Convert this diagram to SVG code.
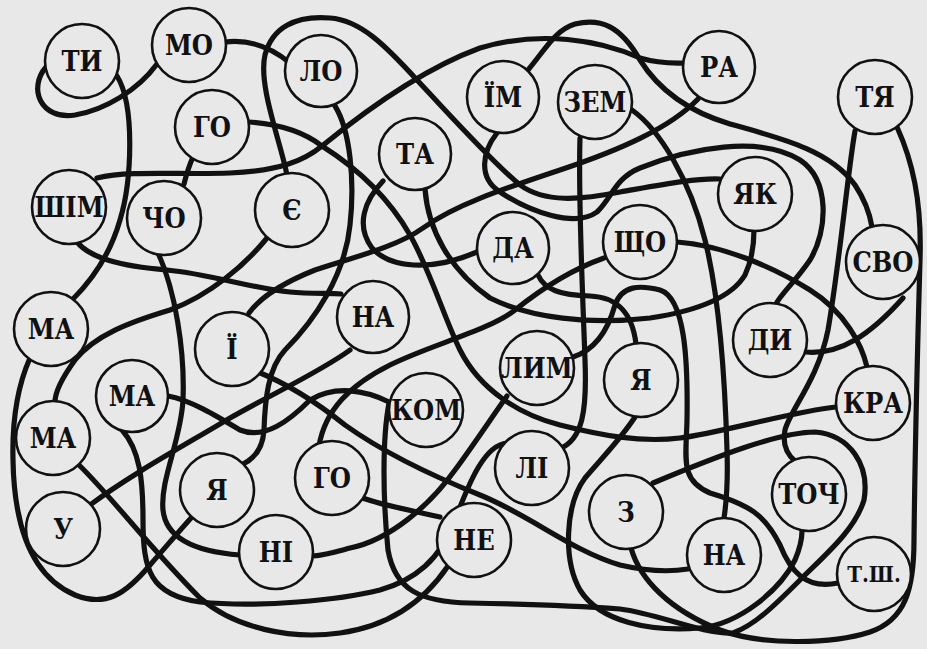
<svg xmlns="http://www.w3.org/2000/svg" width="927" height="649" viewBox="0 0 927 649">
<style>
.ln{fill:none;stroke:#111;stroke-width:5.2;stroke-linecap:round;stroke-linejoin:round}
.nd circle{fill:#e8e8e8;stroke:#111;stroke-width:2.6}
.nd text{font-family:"DejaVu Serif Condensed","DejaVu Serif","Liberation Serif",serif;font-size:27px;font-weight:bold;fill:#111;text-anchor:middle;dominant-baseline:central}
</style>
<rect width="927" height="649" fill="#e8e8e8"/>
<g id="connectors">
<path class="ln" d="M46,67 C28,88 40,120 75,115 C105,110 138,90 157,64"/>
<path class="ln" d="M117,76 C135,105 132,180 120,220 C110,255 92,280 73,299"/>
<path class="ln" d="M225,42 C250,39 272,48 290,63"/>
<path class="ln" d="M287,175 C280,140 258,85 265,55 C272,28 295,15 330,18 C360,20 385,45 417,80 C450,115 490,160 520,185 C545,203 580,200 620,192 C660,185 695,178 720,179"/>
<path class="ln" d="M497,133 C482,152 478,178 500,192 C530,212 575,228 597,212 C612,198 615,178 640,168 C690,148 760,135 800,160 C830,180 828,230 810,260 C795,282 780,295 776,304"/>
<path class="ln" d="M528,70 C545,50 555,30 575,24 C600,18 620,25 640,60 C660,92 690,112 730,124 C780,138 830,150 855,185 C865,200 870,215 872,227"/>
<path class="ln" d="M97,178 C130,170 180,175 230,173 C280,171 305,160 322,146 C360,115 420,70 480,48 C540,30 600,40 640,58 C660,64 675,63 684,63"/>
<path class="ln" d="M248,122 C280,124 305,133 322,146 C360,170 390,200 410,235 C430,270 445,320 460,350 C480,390 520,415 560,425 C600,435 640,443 680,438 C720,433 790,412 836,407"/>
<path class="ln" d="M193,157 C188,168 186,176 184,184"/>
<path class="ln" d="M158,253 C175,290 185,350 183,400 C181,440 160,480 163,510 C166,540 200,552 240,555"/>
<path class="ln" d="M77,242 C90,258 120,266 167,270 C210,274 250,288 290,292 C310,294 330,293 341,294"/>
<path class="ln" d="M267,238 C245,265 210,295 170,310 C130,322 95,335 75,360 C62,378 55,392 55,402"/>
<path class="ln" d="M698,99 C670,128 620,150 560,170 C500,190 455,205 423,228 C395,248 350,258 315,270 C285,282 262,295 249,313"/>
<path class="ln" d="M335,106 C350,130 355,180 350,225 C345,275 315,320 285,350 C268,368 265,400 264,430 C263,448 255,458 243,464"/>
<path class="ln" d="M383,181 C365,200 355,225 372,248 C390,268 430,272 477,252"/>
<path class="ln" d="M425,189 C428,230 450,270 490,298 C530,318 590,325 650,318 C690,312 730,300 745,275 C752,260 754,245 754,230"/>
<path class="ln" d="M538,275 C545,290 560,295 590,296 C615,297 632,310 636,344"/>
<path class="ln" d="M677,242 C720,245 770,265 810,290 C845,312 862,345 867,367"/>
<path class="ln" d="M806,352 C840,355 870,335 903,298"/>
<path class="ln" d="M604,258 C570,270 540,290 515,310 C490,330 430,345 390,365 C350,385 325,410 319,446"/>
<path class="ln" d="M350,350 C320,372 270,395 230,418 C185,445 130,475 90,505"/>
<path class="ln" d="M580,138 C578,200 583,300 585,360 C587,410 583,440 559,449"/>
<path class="ln" d="M632,110 C660,130 690,180 705,240 C720,300 725,380 727,450 C728,480 726,505 724,518"/>
<path class="ln" d="M573,357 C595,350 608,330 615,305 C622,285 640,285 660,290 C685,298 688,360 687,420 C686,460 680,480 710,493 C750,505 765,515 780,545 C790,570 805,590 838,583"/>
<path class="ln" d="M855,131 C848,170 840,260 828,330 C818,380 790,410 785,430 C782,445 788,455 795,461"/>
<path class="ln" d="M389,403 C382,440 383,500 388,550 C395,590 420,602 470,603 C530,604 580,606 620,609 C660,614 700,634 733,633 C755,625 775,605 800,580 C825,555 855,530 864,500 C870,465 850,435 815,432 C780,432 720,455 653,483"/>
<path class="ln" d="M631,548 C640,580 670,610 720,630 C760,645 830,645 870,632 C905,620 914,590 914,540 C915,450 918,330 920,260 C922,200 912,160 897,127"/>
<path class="ln" d="M635,417 C620,440 600,460 585,478 C565,505 563,560 580,590 C600,622 650,632 700,628 C740,624 780,590 795,560 C800,548 802,540 802,531"/>
<path class="ln" d="M258,372 C290,385 320,405 345,425 C380,450 430,475 480,495 C530,515 570,550 620,565 C650,572 670,572 688,569"/>
<path class="ln" d="M79,465 C110,495 150,548 200,598 C235,628 290,640 340,633 C390,626 425,600 448,566"/>
<path class="ln" d="M122,430 C140,450 143,480 143,520 C143,570 150,595 200,602 C260,608 340,600 380,590 C415,580 440,560 455,520 C470,480 485,445 507,443"/>
<path class="ln" d="M30,358 C18,385 12,420 13,460 C14,520 28,575 75,595 C105,607 125,595 150,565 C165,548 180,530 192,517"/>
<path class="ln" d="M168,396 C190,400 215,415 240,430 C265,440 290,420 310,400 C335,385 365,390 389,402"/>
<path class="ln" d="M507,396 C490,420 470,450 455,470 C430,505 390,540 350,548 C335,552 325,555 313,556"/>
<path class="ln" d="M360,497 C380,505 410,510 440,517"/>
</g>
<g id="n-ti" class="nd"><circle cx="82" cy="61" r="37"/><text x="82" y="61">ТИ</text></g>
<g id="n-mo" class="nd"><circle cx="189" cy="45" r="37"/><text x="189" y="45">МО</text></g>
<g id="n-lo" class="nd"><circle cx="321" cy="71" r="36"/><text x="321" y="71">ЛО</text></g>
<g id="n-go1" class="nd"><circle cx="212" cy="127" r="37"/><text x="212" y="127">ГО</text></g>
<g id="n-shim" class="nd"><circle cx="69" cy="207" r="37"/><text x="69" y="207">ШІМ</text></g>
<g id="n-cho" class="nd"><circle cx="164" cy="218" r="37"/><text x="164" y="218">ЧО</text></g>
<g id="n-ye" class="nd"><circle cx="292" cy="210" r="37"/><text x="292" y="210">Є</text></g>
<g id="n-ta" class="nd"><circle cx="415" cy="154" r="36"/><text x="415" y="154">ТА</text></g>
<g id="n-yim" class="nd"><circle cx="503" cy="97" r="36"/><text x="503" y="97">ЇМ</text></g>
<g id="n-zem" class="nd"><circle cx="595" cy="102" r="37"/><text x="595" y="102">ЗЕМ</text></g>
<g id="n-ra" class="nd"><circle cx="719" cy="67" r="36"/><text x="719" y="67">РА</text></g>
<g id="n-tya" class="nd"><circle cx="875" cy="97" r="37"/><text x="875" y="97">ТЯ</text></g>
<g id="n-yak" class="nd"><circle cx="755" cy="194" r="37"/><text x="755" y="194">ЯК</text></g>
<g id="n-da" class="nd"><circle cx="513" cy="248" r="36"/><text x="513" y="248">ДА</text></g>
<g id="n-shcho" class="nd"><circle cx="640" cy="242" r="37"/><text x="640" y="242">ЩО</text></g>
<g id="n-svo" class="nd"><circle cx="883" cy="262" r="37"/><text x="883" y="262">СВО</text></g>
<g id="n-na1" class="nd"><circle cx="373" cy="317" r="36"/><text x="373" y="317">НА</text></g>
<g id="n-yi" class="nd"><circle cx="232" cy="349" r="37"/><text x="232" y="349">Ї</text></g>
<g id="n-ma1" class="nd"><circle cx="51" cy="329" r="37"/><text x="51" y="329">МА</text></g>
<g id="n-ma2" class="nd"><circle cx="132" cy="396" r="36"/><text x="132" y="396">МА</text></g>
<g id="n-ma3" class="nd"><circle cx="53" cy="438" r="37"/><text x="53" y="438">МА</text></g>
<g id="n-u" class="nd"><circle cx="63" cy="529" r="37"/><text x="63" y="529">У</text></g>
<g id="n-ya1" class="nd"><circle cx="217" cy="490" r="37"/><text x="217" y="490">Я</text></g>
<g id="n-ni" class="nd"><circle cx="276" cy="552" r="37"/><text x="276" y="552">НІ</text></g>
<g id="n-go2" class="nd"><circle cx="332" cy="478" r="37"/><text x="332" y="478">ГО</text></g>
<g id="n-kom" class="nd"><circle cx="426" cy="410" r="37"/><text x="426" y="410">КОМ</text></g>
<g id="n-lym" class="nd"><circle cx="537" cy="368" r="37"/><text x="537" y="368">ЛИМ</text></g>
<g id="n-ya2" class="nd"><circle cx="641" cy="380" r="37"/><text x="641" y="380">Я</text></g>
<g id="n-dy" class="nd"><circle cx="770" cy="340" r="37"/><text x="770" y="340">ДИ</text></g>
<g id="n-kra" class="nd"><circle cx="873" cy="403" r="37"/><text x="873" y="403">КРА</text></g>
<g id="n-li" class="nd"><circle cx="532" cy="468" r="37"/><text x="532" y="468">ЛІ</text></g>
<g id="n-ne" class="nd"><circle cx="474" cy="540" r="37"/><text x="474" y="540">НЕ</text></g>
<g id="n-z" class="nd"><circle cx="626" cy="512" r="37"/><text x="626" y="512">З</text></g>
<g id="n-na2" class="nd"><circle cx="724" cy="555" r="37"/><text x="724" y="555">НА</text></g>
<g id="n-toch" class="nd"><circle cx="809" cy="494" r="37"/><text x="809" y="494">ТОЧ</text></g>
<g id="n-tsh" class="nd"><circle cx="874" cy="574" r="37"/><text x="874" y="574" style="font-size:22px">Т.Ш.</text></g>
</svg>
